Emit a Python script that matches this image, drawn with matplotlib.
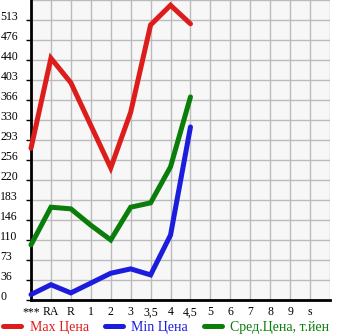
import numpy as np
import matplotlib
matplotlib.use("Agg")
import matplotlib.pyplot as plt
from matplotlib.lines import Line2D

# categories on the x axis
labels = ["***", "RA", "R", "1", "2", "3", "3,5", "4", "4,5", "5", "6", "7", "8", "9", "s"]
# values (thousand yen)
max_price = [278, 443, 398, 320, 242, 344, 504, 540, 506]
min_price = [10, 28, 13, 31, 49, 57, 46, 119, 317]
avg_price = [101, 170, 167, 137, 110, 170, 178, 244, 372]
yticks = [0, 36, 73, 110, 146, 183, 220, 256, 293, 330, 366, 403, 440, 476, 513]

red = "#dd1c1c"
blue = "#1c1cdd"
green = "#0a7d0a"

plt.rcParams["font.family"] = ["Liberation Serif", "DejaVu Serif"]

fig = plt.figure(figsize=(3.45, 3.35), dpi=100)
ax = fig.add_axes([31 / 345, 35 / 335, 299 / 345, 300 / 335])
ax.set_facecolor("#f7f7f7")

step = 513 / 14
ax.set_xlim(0, 15)
ax.set_ylim(0, step * 15)

# grid
for i in range(16):
    ax.axvline(i, color="#bbbbbb", lw=1, zorder=1)
for j in range(16):
    ax.axhline(j * step, color="#bbbbbb", lw=1, zorder=1)

xs = np.arange(len(max_price))
for vals, c in [(max_price, red), (min_price, blue), (avg_price, green)]:
    ax.plot(xs, vals, color=c, lw=3.6, solid_capstyle="round",
            solid_joinstyle="miter", zorder=3, clip_on=False)

ax.set_xticks(range(len(labels)))
ax.set_xticklabels(labels, fontsize=8.5)
ax.tick_params(axis="x", length=0, pad=4.5)

ax.set_yticks([j * step for j in range(15)])
ax.set_yticklabels([str(v) for v in yticks], fontsize=8.5)
ax.tick_params(axis="y", length=3.5, width=1, pad=18.5)
for t in ax.get_yticklabels():
    t.set_horizontalalignment("left")
    t.set_verticalalignment("baseline")

for s in ["top", "right"]:
    ax.spines[s].set_visible(False)
ax.spines["left"].set_linewidth(2)
ax.spines["bottom"].set_linewidth(2)

handles = [Line2D([], [], color=c, lw=3.6, solid_capstyle="round") for c in (red, blue, green)]
leg = fig.legend(handles, ["Max Цена", "Min Цена", "Сред.Цена, т.йен"],
                 loc="lower left", bbox_to_anchor=(0.005, 0.0), ncol=3,
                 frameon=False, fontsize=10, handlelength=1.3,
                 handletextpad=0.6, columnspacing=1.15,
                 borderpad=0.1, borderaxespad=0.0)
for t, c in zip(leg.get_texts(), (red, blue, green)):
    t.set_color(c)

fig.savefig("out.png", dpi=100)
